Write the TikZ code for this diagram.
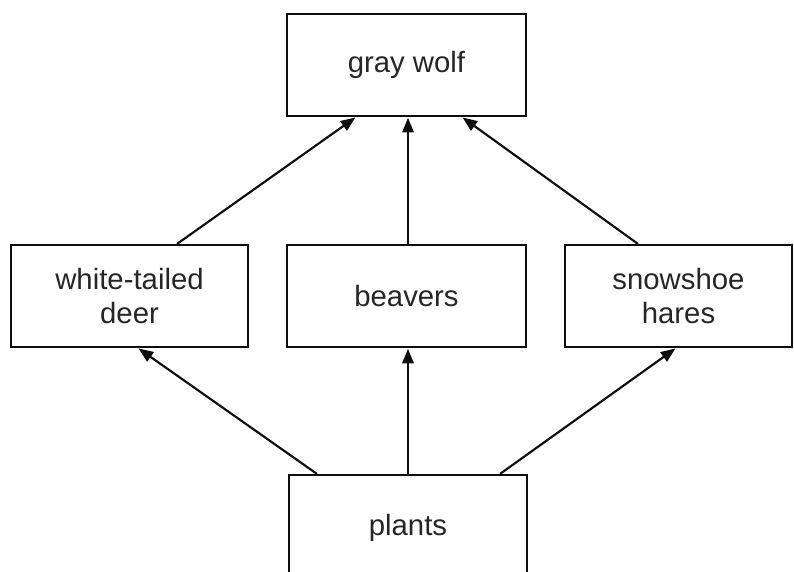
\documentclass[tikz,border=0pt]{standalone}
\usepackage{fontspec}
\setmainfont{Liberation Sans}
\usetikzlibrary{arrows.meta}
\begin{document}
\begin{tikzpicture}[x=0.75pt,y=-0.75pt,
  box/.style={draw=black!95, line width=1.6pt, inner sep=0pt, align=center,
    font=\fontsize{22}{25}\selectfont, text=black!85},
  arr/.style={draw=black!95, line width=1.6pt, -{Triangle[length=11pt,width=8.5pt]}, shorten >=0.5pt}]
\useasboundingbox (0,0) rectangle (794,572);
\fill[white] (0,0) rectangle (794,572);
\clip (0,0) rectangle (794,572);
\node[box, minimum width=179.25pt, minimum height=76.5pt] (wolf) at (406.5,65) {gray wolf};
\node[box, minimum width=177.75pt, minimum height=76.5pt] (deer) at (129.5,296) {white-tailed\\deer};
\node[box, minimum width=179.25pt, minimum height=76.5pt] (beav) at (406.5,296) {beavers};
\node[box, minimum width=170.25pt, minimum height=76.5pt] (hare) at (678.5,296) {snowshoe\\hares};
\node[box, minimum width=178.5pt, minimum height=78.75pt] (plant) at (408,527.5) {plants};
\draw[arr] ([xshift=47.5*0.75pt]deer.north) -- ([xshift=-50.5*0.75pt]wolf.south);
\draw[arr] ([xshift=1.5*0.75pt]beav.north) -- ([xshift=1.5*0.75pt]wolf.south);
\draw[arr] ([xshift=-40.5*0.75pt]hare.north) -- ([xshift=55.5*0.75pt]wolf.south);
\draw[arr] ([xshift=-91*0.75pt]plant.north) -- ([xshift=8.5*0.75pt]deer.south);
\draw[arr] (plant.north) -- (plant.north |- beav.south);
\draw[arr] ([xshift=92*0.75pt]plant.north) -- ([xshift=-2.5*0.75pt]hare.south);
\end{tikzpicture}
\end{document}
